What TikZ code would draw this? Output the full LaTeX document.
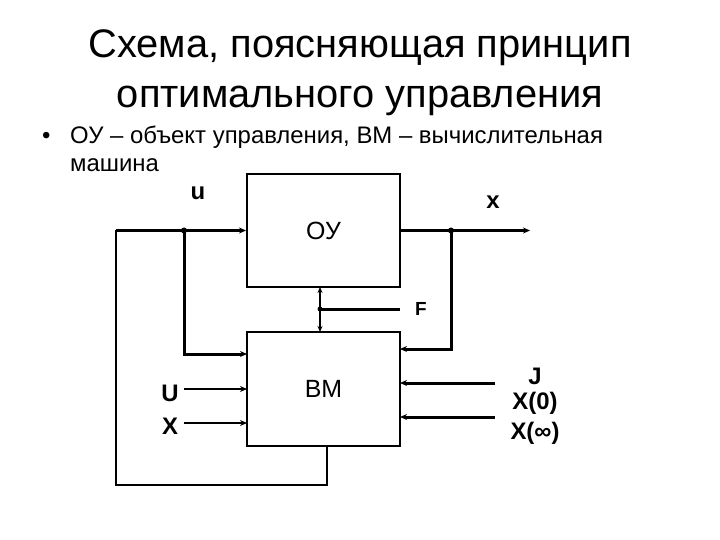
\documentclass[tikz,border=0pt]{standalone}
\usepackage{fontspec}
\setmainfont{Liberation Sans}
\usetikzlibrary{arrows.meta}
\begin{document}
\begin{tikzpicture}[x=1bp,y=-1bp,
  blk/.style={draw, line width=2bp, minimum width=153bp, minimum height=113bp, inner sep=0pt, font=\fontsize{25}{29}\selectfont},
  wire/.style={line width=3bp},
  thinw/.style={line width=2bp},
  arr/.style={-{Stealth[length=7bp,width=6bp]}},
  dot/.style={circle, fill, inner sep=0pt, minimum size=6bp},
  lbl/.style={font=\bfseries\fontsize{24}{28}\selectfont, inner sep=0pt},
  ttl/.style={font=\fontsize{40}{46}\selectfont, anchor=base, inner sep=0pt},
  txt/.style={font=\fontsize{24}{28}\selectfont, anchor=base west, inner sep=0pt}]
\useasboundingbox (0,0) rectangle (720,540);
% title and text
\node[ttl] (t1) at (360,58) {Схема, поясняющая принцип};
\node[ttl] (t2) at (360,108) {оптимального управления};
\node[txt] (bul) at (42,144) {•};
\node[txt] (l1) at (70,144) {ОУ – объект управления, ВМ – вычислительная};
\node[txt] (l2) at (70,172) {машина};
% blocks
\node[blk] (oy) at (323.5,230.5) {ОУ};
\node[blk, minimum height=114bp] (bm) at (323.5,389) {ВМ};
% coordinates
\coordinate (lft) at (116,230.5);
\node[dot] (du) at (184,230.5) {};
\coordinate (b1) at (247,354);
\coordinate (xo) at (530,230.5);
\node[dot] (dx) at (451,230.5) {};
\coordinate (b2) at (400,349);
\coordinate (f1) at (320,287);
\coordinate (f2) at (320,332);
\node[dot, minimum size=5bp] (df) at (320,309) {};
\coordinate (fe) at (400,309);
\coordinate (us) at (184,389);
\coordinate (ue) at (247,389);
\coordinate (xs) at (184,423);
\coordinate (xe) at (247,423);
\coordinate (j1) at (495,383);
\coordinate (j1e) at (400,383);
\coordinate (j2) at (495,417);
\coordinate (j2e) at (400,417);
% wires
\draw[thinw] (bm.south -| 327,0) -- (327,485) -| (lft);
\draw[wire, arr] (lft) -- (oy.west);
\draw[wire, arr] (du.center) |- (b1);
\draw[wire, arr] (oy.east) -- (xo);
\draw[wire, arr] (dx.center) |- (b2);
\draw[thinw, {Stealth[length=6bp,width=5bp]}-{Stealth[length=6bp,width=5bp]}] (f1) -- (f2);
\draw[wire] (df.center) -- (fe);
\draw[thinw, arr] (us) -- (ue);
\draw[thinw, arr] (xs) -- (xe);
\draw[wire, arr] (j1) -- (j1e);
\draw[wire, arr] (j2) -- (j2e);
% labels
\node[lbl] (lu) at (198,193) {u};
\node[lbl] (lx) at (493,202) {x};
\node[lbl, font=\bfseries\fontsize{19}{22}\selectfont] (lf) at (421,309) {F};
\node[lbl] (lU) at (170,393) {U};
\node[lbl] (lX) at (170,426) {X};
\node[lbl] (lJ) at (535,376) {J};
\node[lbl] (lX0) at (535,403) {X(0)};
\node[lbl] (lXi) at (535,433) {X(∞)};
\end{tikzpicture}
\end{document}
